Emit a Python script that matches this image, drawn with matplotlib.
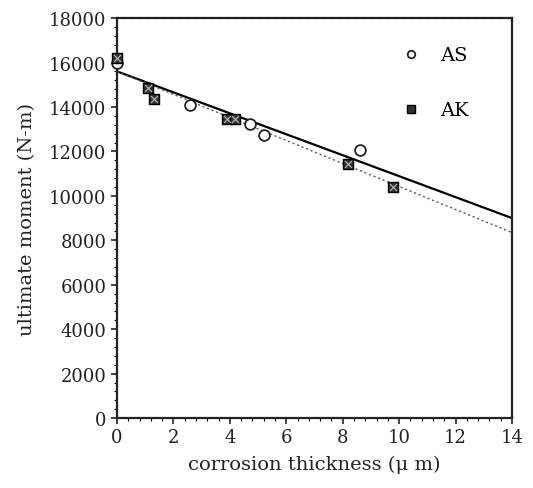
import matplotlib
matplotlib.use("Agg")
import matplotlib.pyplot as plt
from matplotlib.ticker import AutoMinorLocator

# Data
as_x = [0.0, 2.6, 4.7, 5.2, 8.6]
as_y = [16000, 14100, 13250, 12750, 12050]
ak_x = [0.0, 1.1, 1.3, 3.9, 4.2, 8.2, 9.8]
ak_y = [16200, 14850, 14350, 13450, 13450, 11450, 10400]

# Regression lines (endpoints)
as_line_x = [0.0, 14.0]
as_line_y = [15600, 9000]
ak_line_x = [0.0, 14.0]
ak_line_y = [15600, 8350]

x_ticks = [0, 2, 4, 6, 8, 10, 12, 14]
y_ticks = [0, 2000, 4000, 6000, 8000, 10000, 12000, 14000, 16000, 18000]

plt.rcParams['font.family'] = ['DejaVu Serif']

fig = plt.figure(figsize=(5.33, 4.89), dpi=100)
ax = fig.add_axes([0.2195, 0.143, 0.741, 0.818])

ax.plot(as_line_x, as_line_y, color='black', lw=1.6, zorder=2)
ax.plot(ak_line_x, ak_line_y, color='#555555', lw=1.0, ls=(0, (1.5, 2)), zorder=2)

ax.scatter(as_x, as_y, s=60, marker='o', facecolors='white', edgecolors='#222222',
           linewidths=1.3, zorder=3, label='AS', clip_on=False)
ax.scatter(ak_x, ak_y, s=60, marker='s', facecolors='#333333', edgecolors='black',
           linewidths=1.0, zorder=4, label='AK', clip_on=False)
ax.scatter(ak_x, ak_y, s=26, marker='x', color='#bbbbbb', linewidths=0.8, zorder=5,
           clip_on=False)

ax.set_xlim(0, 14)
ax.set_ylim(0, 18000)
ax.set_xticks(x_ticks)
ax.set_yticks(y_ticks)
ax.xaxis.set_minor_locator(AutoMinorLocator(5))
ax.yaxis.set_minor_locator(AutoMinorLocator(5))
ax.tick_params(axis='both', which='major', direction='out', length=4, width=1.2,
               labelsize=13, colors='#222222')
ax.tick_params(axis='both', which='minor', direction='out', length=2, width=0.8)
for sp in ax.spines.values():
    sp.set_linewidth(1.6)
    sp.set_color('#222222')
ax.spines['top'].set_linestyle((0, (3, 0.6)))
ax.spines['right'].set_linestyle((0, (1.5, 0.8)))

ax.set_xlabel('corrosion thickness (μ m)', fontsize=14, color='#222222', labelpad=6)
ax.set_ylabel('ultimate moment (N-m)', fontsize=14, color='#222222', labelpad=9)

leg = ax.legend(loc='upper right', bbox_to_anchor=(0.935, 0.975), frameon=False,
                fontsize=14, labelspacing=1.9, handletextpad=0.5,
                markerscale=0.7)

fig.savefig('out.png', dpi=100, facecolor='white')
